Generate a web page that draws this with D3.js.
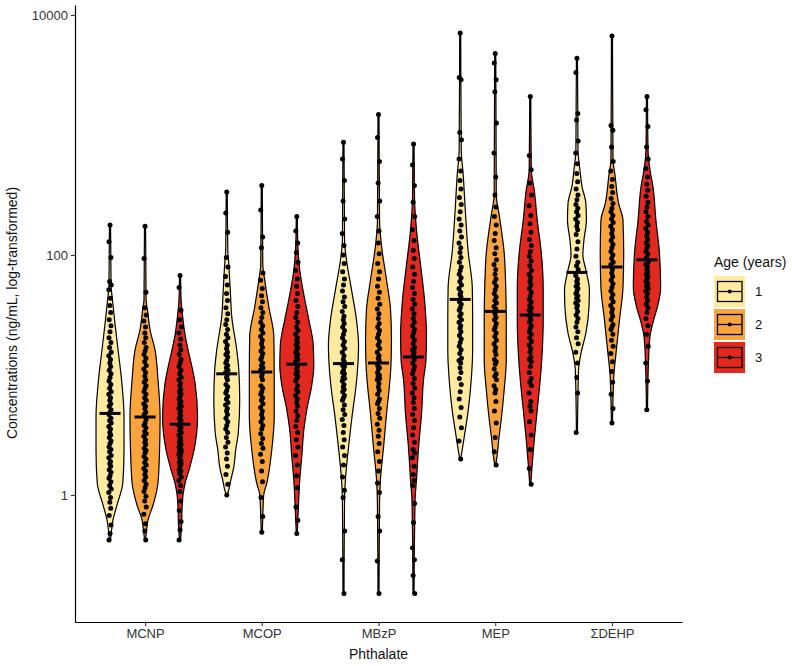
<!DOCTYPE html>
<html><head><meta charset="utf-8">
<script src="https://cdn.jsdelivr.net/npm/d3@7"></script>
<style>body{margin:0;background:#fff} text{font-family:"Liberation Sans",Arial,sans-serif}</style>
</head><body><svg id="chart" width="792" height="666"></svg>
<script>
// ---------- data ----------
const phthalates = ["MCNP", "MCOP", "MBzP", "MEP", "\u03A3DEHP"];
const ages = ["1", "2", "3"];
const ageColors = ["#FFEBA0", "#FAA43D", "#E3281F"];
const yTickValues = [1, 100, 10000];
const yTickLabels = ["1", "100", "10000"];

// individual observations: log10 of concentration (ng/mL)
const log10_MCNP_age1 = [2.25,2.11,1.98,1.78,1.75,1.71,1.64,1.58,1.52,1.46,1.41,1.36,1.31,1.27,1.23,1.19,1.16,1.13,1.10,1.07,1.04,1.01,0.98,0.95,0.92,0.89,0.86,0.84,0.81,0.79,0.76,0.74,0.71,0.69,0.67,0.64,0.62,0.60,0.57,0.55,0.52,0.50,0.48,0.45,0.43,0.40,0.38,0.36,0.33,0.31,0.28,0.26,0.24,0.21,0.19,0.16,0.14,0.11,0.08,0.05,0.02,-0.02,-0.06,-0.11,-0.17,-0.25,-0.32,-0.375];
const log10_MCNP_age2 = [2.24,1.97,1.69,1.56,1.50,1.45,1.40,1.35,1.31,1.27,1.23,1.20,1.17,1.14,1.11,1.08,1.05,1.02,0.99,0.96,0.94,0.91,0.89,0.86,0.84,0.81,0.79,0.76,0.74,0.72,0.69,0.67,0.63,0.60,0.58,0.56,0.53,0.51,0.49,0.46,0.44,0.42,0.39,0.37,0.35,0.32,0.30,0.27,0.25,0.22,0.20,0.17,0.15,0.12,0.09,0.06,0.03,-0.01,-0.05,-0.10,-0.16,-0.24,-0.30,-0.375];
const log10_MCNP_age3 = [1.83,1.73,1.54,1.46,1.40,1.35,1.30,1.25,1.21,1.17,1.13,1.10,1.07,1.04,1.01,0.98,0.96,0.93,0.91,0.88,0.86,0.84,0.82,0.80,0.78,0.76,0.74,0.72,0.70,0.68,0.66,0.64,0.62,0.60,0.58,0.56,0.54,0.52,0.50,0.48,0.46,0.45,0.44,0.42,0.41,0.40,0.38,0.37,0.36,0.34,0.33,0.31,0.29,0.27,0.26,0.24,0.21,0.20,0.18,0.15,0.12,0.08,0.03,-0.05,-0.13,-0.22,-0.29,-0.375];
const log10_MCOP_age1 = [2.525,2.35,2.19,1.98,1.90,1.82,1.75,1.68,1.62,1.56,1.51,1.46,1.42,1.38,1.34,1.31,1.28,1.25,1.22,1.19,1.17,1.15,1.12,1.10,1.08,1.06,1.04,1.02,1.00,0.98,0.96,0.92,0.90,0.87,0.85,0.82,0.80,0.77,0.75,0.72,0.70,0.67,0.64,0.61,0.58,0.55,0.52,0.48,0.44,0.40,0.35,0.30,0.24,0.17,0.09,0.0];
const log10_MCOP_age2 = [2.58,2.375,2.15,2.06,1.85,1.79,1.72,1.66,1.61,1.56,1.52,1.48,1.44,1.41,1.38,1.35,1.32,1.29,1.26,1.23,1.20,1.18,1.15,1.13,1.10,1.08,1.06,1.04,1.01,0.99,0.96,0.91,0.89,0.86,0.84,0.81,0.79,0.76,0.73,0.70,0.67,0.64,0.61,0.58,0.55,0.51,0.47,0.43,0.39,0.34,0.28,0.20,0.11,-0.02,-0.18,-0.31];
const log10_MCOP_age3 = [2.32,2.20,2.10,2.02,1.94,1.87,1.80,1.74,1.68,1.62,1.57,1.52,1.48,1.44,1.40,1.37,1.34,1.31,1.29,1.27,1.25,1.23,1.21,1.19,1.17,1.15,1.13,1.11,1.07,1.05,1.03,1.01,0.99,0.97,0.95,0.91,0.88,0.86,0.83,0.80,0.77,0.74,0.70,0.66,0.62,0.57,0.52,0.46,0.40,0.33,0.25,0.16,0.06,-0.10,-0.21,-0.32];
const log10_MBzP_age1 = [2.94,2.80,2.62,2.45,2.30,2.18,2.08,2.00,1.93,1.86,1.80,1.75,1.70,1.65,1.61,1.57,1.53,1.49,1.46,1.43,1.40,1.37,1.34,1.31,1.28,1.25,1.22,1.19,1.16,1.13,1.11,1.08,1.07,1.04,1.02,1.01,0.98,0.97,0.95,0.92,0.90,0.88,0.86,0.83,0.81,0.79,0.75,0.71,0.67,0.63,0.58,0.52,0.46,0.40,0.33,0.25,0.15,0.04,-0.02,-0.30,-0.54,-0.82];
const log10_MBzP_age2 = [3.17,2.98,2.78,2.60,2.45,2.32,2.20,2.10,2.01,1.93,1.86,1.80,1.74,1.69,1.64,1.59,1.55,1.51,1.47,1.43,1.40,1.37,1.34,1.31,1.28,1.25,1.22,1.19,1.16,1.14,1.12,1.08,1.06,1.05,1.02,1.00,0.99,0.97,0.96,0.93,0.90,0.87,0.84,0.80,0.78,0.76,0.72,0.68,0.64,0.59,0.54,0.49,0.43,0.36,0.28,0.20,0.10,0.02,-0.18,-0.30,-0.55,-0.82];
const log10_MBzP_age3 = [2.925,2.75,2.58,2.44,2.32,2.21,2.12,2.04,1.97,1.90,1.84,1.78,1.73,1.68,1.63,1.59,1.55,1.51,1.47,1.44,1.41,1.38,1.35,1.32,1.29,1.26,1.23,1.21,1.19,1.17,1.13,1.10,1.07,1.04,1.01,0.97,0.93,0.89,0.85,0.81,0.77,0.72,0.67,0.62,0.56,0.50,0.44,0.38,0.35,0.31,0.24,0.17,0.12,0.08,-0.07,-0.23,-0.44,-0.54,-0.67,-0.82];
const log10_MEP_age1 = [3.85,3.48,3.46,3.02,2.96,2.80,2.70,2.62,2.55,2.48,2.42,2.36,2.30,2.25,2.20,2.15,2.10,2.06,2.02,1.98,1.94,1.90,1.87,1.84,1.81,1.78,1.75,1.72,1.69,1.67,1.65,1.61,1.59,1.56,1.54,1.51,1.49,1.46,1.44,1.41,1.39,1.36,1.33,1.30,1.27,1.24,1.21,1.18,1.14,1.12,1.10,1.06,1.02,0.97,0.92,0.86,0.80,0.73,0.65,0.56,0.45,0.30];
const log10_MEP_age2 = [3.68,3.60,3.46,3.36,3.10,2.85,2.65,2.50,2.40,2.32,2.25,2.18,2.12,2.06,2.01,1.96,1.92,1.88,1.84,1.80,1.77,1.74,1.71,1.68,1.65,1.62,1.60,1.57,1.55,1.51,1.48,1.46,1.43,1.40,1.38,1.35,1.32,1.29,1.26,1.23,1.20,1.17,1.13,1.11,1.09,1.05,1.01,0.99,0.96,0.91,0.88,0.85,0.78,0.70,0.60,0.48,0.36,0.25];
const log10_MEP_age3 = [3.32,2.83,2.71,2.60,2.50,2.41,2.33,2.26,2.19,2.13,2.08,2.03,1.99,1.95,1.91,1.87,1.84,1.81,1.78,1.75,1.72,1.69,1.66,1.63,1.61,1.58,1.56,1.54,1.52,1.48,1.46,1.44,1.41,1.39,1.36,1.34,1.31,1.28,1.25,1.22,1.19,1.15,1.13,1.11,1.07,1.02,0.97,0.94,0.91,0.85,0.78,0.74,0.70,0.61,0.50,0.38,0.22,0.09];
const log10_DEHP_age1 = [3.64,3.52,3.18,3.125,2.95,2.85,2.76,2.68,2.61,2.55,2.50,2.46,2.42,2.39,2.36,2.33,2.30,2.27,2.24,2.21,2.17,2.11,2.05,1.99,1.94,1.91,1.88,1.83,1.80,1.78,1.76,1.74,1.72,1.70,1.68,1.66,1.64,1.62,1.60,1.58,1.56,1.53,1.50,1.47,1.44,1.40,1.36,1.31,1.26,1.19,1.10,0.98,0.85,0.52];
const log10_DEHP_age2 = [3.825,3.08,3.04,2.90,2.78,2.70,2.63,2.57,2.52,2.47,2.43,2.39,2.36,2.33,2.30,2.27,2.24,2.21,2.18,2.15,2.12,2.09,2.06,2.03,2.00,1.97,1.94,1.92,1.88,1.85,1.82,1.79,1.76,1.73,1.70,1.67,1.64,1.61,1.58,1.55,1.52,1.49,1.46,1.42,1.40,1.38,1.34,1.29,1.24,1.18,1.11,1.03,0.94,0.84,0.72,0.60];
const log10_DEHP_age3 = [3.32,3.21,3.07,2.90,2.80,2.72,2.65,2.59,2.54,2.49,2.44,2.40,2.36,2.32,2.28,2.25,2.22,2.19,2.16,2.13,2.10,2.08,2.06,2.03,2.01,1.98,1.94,1.92,1.90,1.88,1.86,1.84,1.82,1.80,1.78,1.76,1.74,1.72,1.70,1.68,1.65,1.62,1.59,1.56,1.52,1.47,1.41,1.34,1.24,1.10,0.95,0.71];

// violin outlines: [log10 concentration, relative density (1 = widest violin)]
const violin_MCNP_age1 = [[2.25,0.03],[1.75,0.06],[1.625,0.14],[1.458,0.26],[1.208,0.46],[0.958,0.66],[0.65,0.80],[0.375,0.80],[0.10,0.73],[-0.083,0.40],[-0.208,0.17],[-0.292,0.09],[-0.375,0.03]];
const violin_MCNP_age2 = [[2.24,0.03],[1.625,0.06],[1.54,0.14],[1.375,0.29],[1.21,0.57],[0.96,0.74],[0.65,0.86],[0.375,0.83],[0.10,0.74],[-0.083,0.46],[-0.208,0.17],[-0.29,0.09],[-0.375,0.03]];
const violin_MCNP_age3 = [[1.825,0.03],[1.625,0.06],[1.50,0.14],[1.33,0.29],[1.21,0.46],[0.93,0.86],[0.65,1.0],[0.375,0.80],[0.208,0.51],[0.10,0.29],[0.0,0.17],[-0.125,0.11],[-0.25,0.09],[-0.375,0.03]];
const violin_MCOP_age1 = [[2.525,0.03],[2.04,0.06],[1.94,0.11],[1.71,0.20],[1.48,0.29],[1.21,0.57],[1.04,0.69],[0.79,0.74],[0.52,0.66],[0.375,0.51],[0.23,0.40],[0.125,0.23],[0.04,0.11],[0.0,0.03]];
const violin_MCOP_age2 = [[2.58,0.03],[1.92,0.06],[1.79,0.17],[1.57,0.40],[1.32,0.69],[1.04,0.71],[0.65,0.71],[0.375,0.57],[0.10,0.29],[0.0,0.11],[-0.125,0.07],[-0.31,0.03]];
const violin_MCOP_age3 = [[2.32,0.03],[2.08,0.06],[1.875,0.17],[1.625,0.46],[1.46,0.69],[1.25,0.94],[1.08,0.97],[0.92,0.86],[0.71,0.57],[0.54,0.40],[0.33,0.29],[0.125,0.17],[-0.04,0.11],[-0.21,0.06],[-0.32,0.03]];
const violin_MBzP_age1 = [[2.94,0.03],[2.125,0.06],[1.96,0.17],[1.71,0.46],[1.46,0.74],[1.25,0.86],[1.04,0.80],[0.875,0.69],[0.68,0.51],[0.40,0.29],[0.125,0.11],[-0.04,0.06],[-0.82,0.03]];
const violin_MBzP_age2 = [[3.17,0.03],[2.29,0.06],[2.08,0.17],[1.79,0.46],[1.54,0.69],[1.29,0.74],[1.08,0.71],[0.92,0.63],[0.68,0.46],[0.40,0.29],[0.125,0.11],[-0.08,0.06],[-0.82,0.03]];
const violin_MBzP_age3 = [[2.925,0.03],[2.46,0.06],[2.21,0.17],[1.92,0.40],[1.625,0.63],[1.33,0.74],[1.125,0.71],[0.96,0.57],[0.68,0.46],[0.40,0.29],[0.125,0.17],[-0.04,0.09],[-0.82,0.03]];
const violin_MEP_age1 = [[3.85,0.03],[2.875,0.06],[2.67,0.17],[2.375,0.29],[2.02,0.46],[1.73,0.69],[1.46,0.71],[1.21,0.71],[0.96,0.63],[0.71,0.46],[0.54,0.29],[0.40,0.14],[0.30,0.03]];
const violin_MEP_age2 = [[3.68,0.03],[2.50,0.06],[2.33,0.23],[2.02,0.51],[1.73,0.60],[1.46,0.63],[1.125,0.63],[0.875,0.51],[0.625,0.34],[0.46,0.20],[0.33,0.11],[0.25,0.03]];
const violin_MEP_age3 = [[3.32,0.03],[2.71,0.06],[2.54,0.23],[2.29,0.40],[2.02,0.63],[1.73,0.74],[1.46,0.74],[1.21,0.69],[0.96,0.57],[0.71,0.40],[0.46,0.23],[0.25,0.11],[0.09,0.03]];
const violin_DEHP_age1 = [[3.64,0.03],[2.875,0.06],[2.71,0.17],[2.57,0.29],[2.43,0.51],[2.29,0.54],[2.125,0.40],[2.0,0.34],[1.875,0.51],[1.71,0.71],[1.57,0.69],[1.35,0.51],[1.18,0.23],[1.04,0.09],[0.52,0.03]];
const violin_DEHP_age2 = [[3.825,0.03],[2.79,0.06],[2.67,0.17],[2.43,0.38],[2.29,0.63],[2.02,0.67],[1.73,0.63],[1.46,0.43],[1.18,0.23],[1.0,0.11],[0.60,0.03]];
const violin_DEHP_age3 = [[3.32,0.03],[2.875,0.06],[2.71,0.17],[2.57,0.34],[2.29,0.51],[2.02,0.71],[1.73,0.78],[1.57,0.60],[1.46,0.38],[1.32,0.17],[1.125,0.09],[0.71,0.03]];

const pointsByPhthalate = [
  [log10_MCNP_age1, log10_MCNP_age2, log10_MCNP_age3],
  [log10_MCOP_age1, log10_MCOP_age2, log10_MCOP_age3],
  [log10_MBzP_age1, log10_MBzP_age2, log10_MBzP_age3],
  [log10_MEP_age1, log10_MEP_age2, log10_MEP_age3],
  [log10_DEHP_age1, log10_DEHP_age2, log10_DEHP_age3]
];
const violinsByPhthalate = [
  [violin_MCNP_age1, violin_MCNP_age2, violin_MCNP_age3],
  [violin_MCOP_age1, violin_MCOP_age2, violin_MCOP_age3],
  [violin_MBzP_age1, violin_MBzP_age2, violin_MBzP_age3],
  [violin_MEP_age1, violin_MEP_age2, violin_MEP_age3],
  [violin_DEHP_age1, violin_DEHP_age2, violin_DEHP_age3]
];

// ---------- layout ----------
const svg = d3.select("#chart");
const x = d3.scalePoint().domain(phthalates).range([75, 682]).padding(0.6);
const step = x.step();
const dodge = 0.3 * step;
const y = d3.scaleLog().domain([Math.pow(10, -1.0583), Math.pow(10, 4.0833)]).range([622, 5]);
const yL = L => y(Math.pow(10, L));
const w = d3.scaleLinear().domain([0, 1]).range([0, dodge / 2]);

const groups = [];
pointsByPhthalate.forEach((arr, pi) => arr.forEach((vals, ai) => {
  groups.push({p: phthalates[pi], a: ai, vals, prof: violinsByPhthalate[pi][ai],
               med: d3.median(vals), cx: x(phthalates[pi]) + (ai - 1) * dodge});
}));

const plot = svg.append("g");
groups.forEach(g => {
  const area = d3.area().curve(d3.curveMonotoneY)
    .y(d => yL(d[0])).x0(d => g.cx - w(d[1])).x1(d => g.cx + w(d[1]));
  plot.append("path").datum(g.prof.slice().reverse()).attr("d", area)
    .attr("fill", ageColors[g.a]).attr("stroke", "#000").attr("stroke-width", 1.2)
    .attr("stroke-linejoin", "round");
});
const jit = [0, -1.0, 0.9, -0.4, 1.2, -1.2, 0.5, -0.2, 0.7, -0.8, 1.0];
groups.forEach(g => {
  plot.append("g").selectAll("circle").data(g.vals).join("circle")
    .attr("cx", (d, i) => g.cx + jit[i % jit.length])
    .attr("cy", d => yL(d))
    .attr("r", 2.5).attr("fill", "#000");
});
groups.forEach(g => {
  plot.append("line").attr("x1", g.cx - 10.5).attr("x2", g.cx + 10.5)
    .attr("y1", yL(g.med)).attr("y2", yL(g.med))
    .attr("stroke", "#000").attr("stroke-width", 3);
});

// axes
const yAxis = svg.append("g").attr("transform", "translate(75,0)")
  .call(d3.axisLeft(y).tickValues(yTickValues).tickFormat((d, i) => yTickLabels[i]).tickSize(4).tickSizeOuter(0).tickPadding(3));
const xAxis = svg.append("g").attr("transform", "translate(0,622)")
  .call(d3.axisBottom(x).tickSize(4).tickSizeOuter(0).tickPadding(3));
[yAxis, xAxis].forEach(a => {
  a.select(".domain").attr("stroke", "#000").attr("stroke-width", 1.2);
  a.selectAll(".tick line").attr("stroke", "#333").attr("stroke-width", 1.1);
  a.selectAll(".tick text").attr("fill", "#333").style("font-size", "13px")
    .style("font-family", "'Liberation Sans', Arial, sans-serif");
});

svg.append("text").attr("x", 378.5).attr("y", 659).attr("text-anchor", "middle")
  .style("font-size", "14px").attr("fill", "#111").text("Phthalate");
svg.append("text").attr("transform", "translate(17,313) rotate(-90)").attr("text-anchor", "middle")
  .style("font-size", "14px").attr("fill", "#111").text("Concentrations (ng/mL, log-transformed)");

// legend
const lg = svg.append("g");
lg.append("text").attr("x", 714).attr("y", 267).style("font-size", "14px").attr("fill", "#111").text("Age (years)");
ages.forEach((a, i) => {
  const top = 276 + i * 33;
  lg.append("rect").attr("x", 714).attr("y", top).attr("width", 31).attr("height", 31).attr("fill", ageColors[i]);
  lg.append("rect").attr("x", 717.5).attr("y", top + 5.5).attr("width", 24.5).attr("height", 20)
    .attr("fill", "none").attr("stroke", "#000").attr("stroke-width", 1.3);
  lg.append("line").attr("x1", 717.5).attr("x2", 742).attr("y1", top + 15.5).attr("y2", top + 15.5)
    .attr("stroke", "#000").attr("stroke-width", 1.3);
  lg.append("circle").attr("cx", 729.75).attr("cy", top + 15.5).attr("r", 2).attr("fill", "#000");
  lg.append("text").attr("x", 755).attr("y", top + 15.5).attr("dy", "0.35em")
    .style("font-size", "13px").attr("fill", "#111").text(a);
});
</script></body></html>
